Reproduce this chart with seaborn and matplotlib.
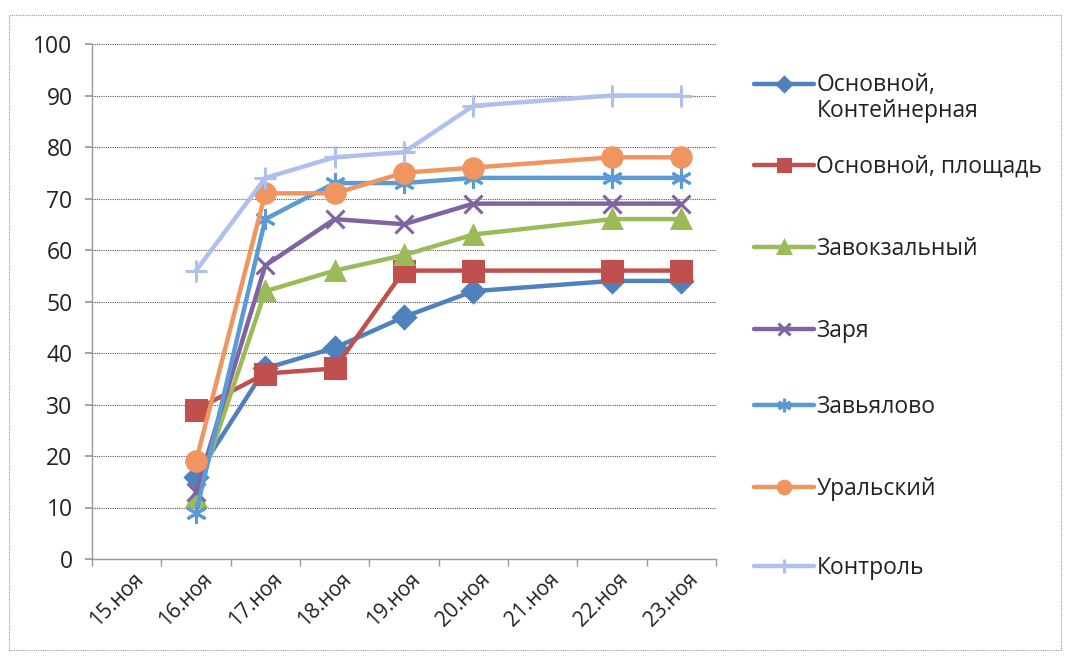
import matplotlib
matplotlib.use("Agg")
import matplotlib.pyplot as plt
import matplotlib.transforms as mtransforms
import seaborn as sns
import pandas as pd
import numpy as np
from matplotlib.patches import Rectangle
from matplotlib.legend_handler import HandlerLine2D

# ---- data ----
dates = ["15.ноя", "16.ноя", "17.ноя", "18.ноя", "19.ноя", "20.ноя", "21.ноя", "22.ноя", "23.ноя"]
obs_dates = ["16.ноя", "17.ноя", "18.ноя", "19.ноя", "20.ноя", "22.ноя", "23.ноя"]

series_names = ["Основной,\nКонтейнерная", "Основной, площадь", "Завокзальный",
                "Заря", "Завьялово", "Уральский", "Контроль"]
osn_kont = [16, 37, 41, 47, 52, 54, 54]
osn_pl = [29, 36, 37, 56, 56, 56, 56]
zavokz = [12, 52, 56, 59, 63, 66, 66]
zarya = [13, 57, 66, 65, 69, 69, 69]
zavyal = [9, 66, 73, 73, 74, 74, 74]
ural = [19, 71, 71, 75, 76, 78, 78]
kontrol = [56, 74, 78, 79, 88, 90, 90]
values = [osn_kont, osn_pl, zavokz, zarya, zavyal, ural, kontrol]

colors = ["#4F81BD", "#C0504D", "#9BBB59", "#8064A2", "#5B9BD5", "#F0955F", "#B0C0EE"]
markers = ["D", "s", "^", "x", (6, 2, 0), "o", "+"]
msizes = [11, 14, 13, 13, 15, 14, 16]

rows = []
for name, vals in zip(series_names, values):
    for d, v in zip(obs_dates, vals):
        rows.append({"series": name, "x": dates.index(d), "value": v})
df = pd.DataFrame(rows)

sns.set_theme(style="white")
plt.rcParams["font.family"] = ["Open Sans", "DejaVu Sans"]

W, H = 1069, 661
fig = plt.figure(figsize=(W / 100, H / 100), dpi=100)
fig.patch.set_facecolor("white")
ax = fig.add_axes([92 / W, 1 - 559 / H, (716 - 92) / W, (559 - 44) / H])

for name, col, mk, ms in zip(series_names, colors, markers, msizes):
    sub = df[df["series"] == name]
    sns.lineplot(data=sub, x="x", y="value", ax=ax, color=col, linewidth=3.2,
                 marker=mk, markersize=ms, markeredgecolor=col, markeredgewidth=2.2,
                 label=name, sort=True, legend=False)

ax.set_xlim(-0.5, 8.5)
ax.set_ylim(0, 100)
ax.set_yticks(range(0, 101, 10))
ax.set_xticks(range(len(dates)))
ax.set_xticklabels(dates, rotation=45, ha="right", rotation_mode="anchor")
ax.set_xticks([i - 0.5 for i in range(len(dates) + 1)], minor=True)
ax.tick_params(axis="x", which="major", length=0, labelsize=15, colors="#222222", pad=7)
ax.tick_params(axis="x", which="minor", length=5, color="#999999", width=1, bottom=True)
ax.tick_params(axis="y", which="major", length=5, color="#999999", labelsize=16.5,
               colors="#222222", left=True, pad=9)
shift = mtransforms.ScaledTranslation(6 / 100, 0, fig.dpi_scale_trans)
for lbl in ax.get_xticklabels():
    lbl.set_transform(lbl.get_transform() + shift)
ax.set_xlabel("")
ax.set_ylabel("")
ax.grid(axis="y", color="#555555", linestyle=(0, (1, 1)), linewidth=0.8)
ax.set_axisbelow(True)
for s in ["top", "right"]:
    ax.spines[s].set_visible(False)
for s in ["left", "bottom"]:
    ax.spines[s].set_color("#999999")
    ax.spines[s].set_linewidth(1)
if ax.get_legend() is not None:
    ax.get_legend().remove()


class ShiftedLine(HandlerLine2D):
    def __init__(self, dy=0.0, **kw):
        super().__init__(**kw)
        self.dy = dy

    def create_artists(self, legend, orig_handle, xdescent, ydescent, width, height,
                       fontsize, trans):
        arts = super().create_artists(legend, orig_handle, xdescent, ydescent, width,
                                      height, fontsize, trans)
        for a in arts:
            a.set_ydata(np.asarray(a.get_ydata()) + self.dy)
        return arts


handles, labels = ax.get_legend_handles_labels()
entry_y = [98, 167, 249, 331, 407, 489, 568]
for h, lab, y in zip(handles, labels, entry_y):
    dy = 10.5 if "\n" in lab else 0.0
    leg = fig.legend([h], [lab], loc="center left", bbox_to_anchor=(754 / W, 1 - y / H),
                     frameon=False, fontsize=16.5, handlelength=2.6, handletextpad=0.12,
                     borderaxespad=0, borderpad=0, markerscale=0.65,
                     handler_map={h: ShiftedLine(dy=dy)})
    for t in leg.get_texts():
        t.set_color("#222222")
        t.set_linespacing(1.15)

fig.add_artist(Rectangle((9 / W, 1 - 650 / H), (1061 - 9) / W, (650 - 15) / H,
                         transform=fig.transFigure, fill=False, edgecolor="#999999",
                         linewidth=0.8, linestyle=(0, (1, 1))))

fig.savefig("out.png", dpi=100, facecolor="white")
